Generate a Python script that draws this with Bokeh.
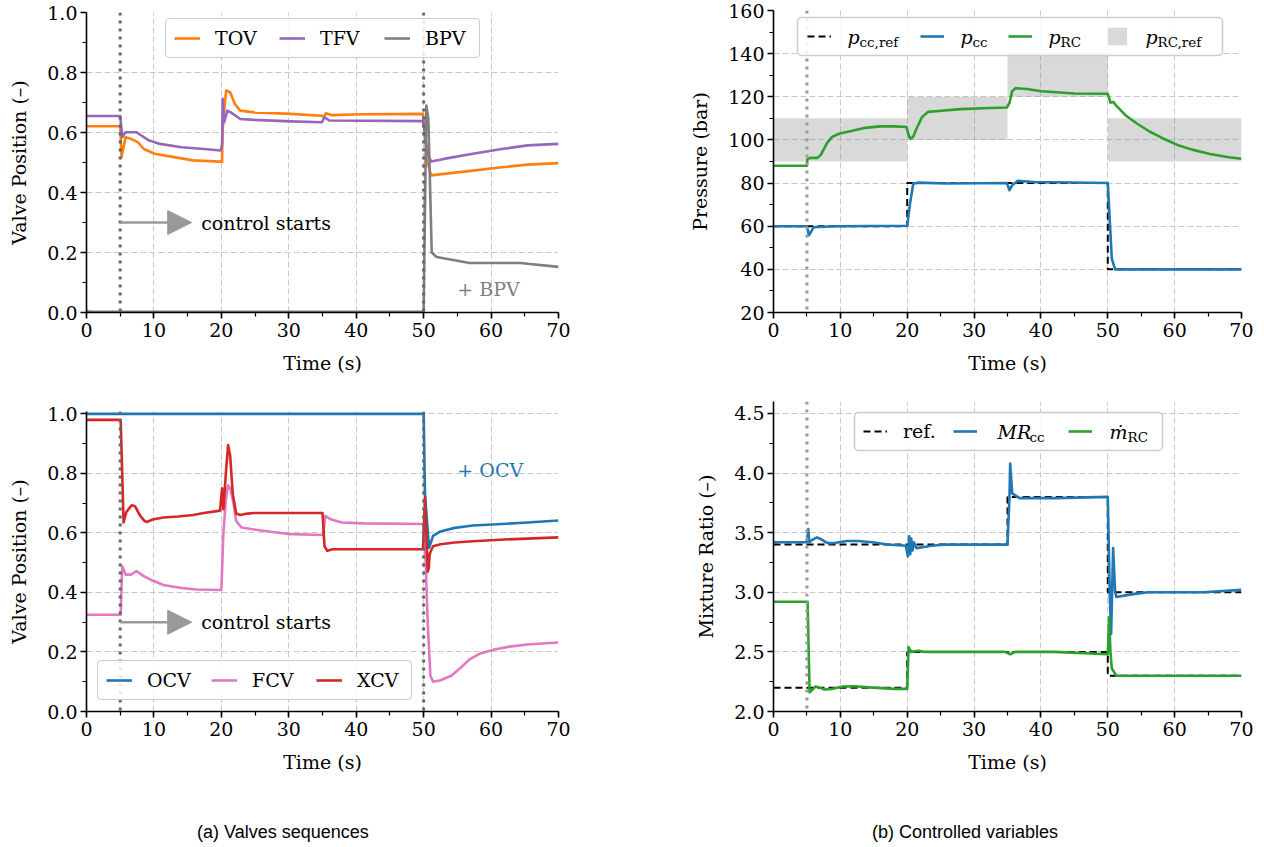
from bokeh.plotting import figure
from bokeh.models import (Range1d, FixedTicker, PrintfTickFormatter, Span, Legend,
                          LegendItem, Label, Arrow, NormalHead, Div, BoxAnnotation)
from bokeh.layouts import column, row
from bokeh.embed import file_html
from bokeh.resources import INLINE

# ---------------- data ----------------
# (a) top: valve positions
TOV_t = [0, 5.0, 5.2, 5.8, 6.6, 7.6, 8.5, 10.1, 13, 15.8, 19.8, 20.1, 20.2, 20.7, 21.3, 22.0, 22.8, 24.9,
         30.3, 34.9, 35.2, 35.5, 36.3, 41, 49.9, 50.6, 51.1, 53, 57.3, 61.6, 65.4, 70]
TOV_v = [0.621, 0.621, 0.518, 0.584, 0.579, 0.568, 0.545, 0.529, 0.518, 0.507, 0.503, 0.503, 0.612, 0.74,
         0.734, 0.695, 0.673, 0.667, 0.662, 0.656, 0.651, 0.664, 0.658, 0.661, 0.662, 0.50, 0.457, 0.462,
         0.473, 0.484, 0.493, 0.498]
TFV_t = [0, 5.0, 5.3, 5.8, 7.4, 7.8, 9.3, 10.9, 14.1, 17.4, 19.9, 20.1, 20.2, 20.4, 20.9, 21.4, 22.8, 24.9,
         30.3, 34.9, 35.3, 36.0, 49.9, 50.6, 51.1, 53, 57.3, 61.6, 65.4, 70]
TFV_v = [0.655, 0.655, 0.584, 0.601, 0.601, 0.595, 0.573, 0.562, 0.551, 0.545, 0.54, 0.56, 0.712, 0.634,
         0.673, 0.667, 0.645, 0.642, 0.637, 0.634, 0.651, 0.64, 0.638, 0.53, 0.503, 0.512, 0.529, 0.545,
         0.557, 0.562]
BPV_t = [0, 0.3, 1, 50.0, 50.4, 50.7, 51.2, 51.9, 54.6, 56.8, 64.3, 70]
BPV_v = [0.006, 0.003, 0.002, 0.002, 0.69, 0.645, 0.2, 0.185, 0.174, 0.165, 0.165, 0.152]

# (a) bottom
OCV_t = [0, 50.0, 50.2, 50.8, 51.4, 52.5, 54.6, 57.3, 61.6, 65.4, 70]
OCV_v = [1.0, 1.0, 0.73, 0.55, 0.59, 0.605, 0.617, 0.625, 0.63, 0.635, 0.642]
FCV_t = [0, 5.07, 5.3, 5.8, 6.6, 7.4, 8.5, 9.8, 11.4, 14.1, 16.3, 20.0, 20.3, 20.7, 21.0, 21.4, 21.8, 22.2,
         23.0, 24.4, 27.6, 30.3, 35.1, 35.4, 36.3, 37.9, 41.1, 50.0, 50.3, 50.6, 51.0, 51.4, 52.5, 54.1,
         55.4, 56.8, 58.4, 60.5, 62.7, 65.4, 70]
FCV_v = [0.325, 0.325, 0.488, 0.46, 0.46, 0.472, 0.455, 0.44, 0.425, 0.415, 0.41, 0.408, 0.6, 0.72, 0.76,
         0.745, 0.7, 0.64, 0.618, 0.613, 0.603, 0.596, 0.593, 0.657, 0.645, 0.635, 0.632, 0.63, 0.5, 0.3,
         0.12, 0.1, 0.105, 0.12, 0.145, 0.175, 0.195, 0.208, 0.218, 0.225, 0.232]
XCV_t = [0, 5.07, 5.5, 5.9, 6.7, 7.2, 7.9, 8.6, 9.0, 9.8, 11.4, 13.6, 15.8, 17.4, 19.8, 20.1, 20.3, 20.7,
         21.0, 21.3, 21.7, 22.2, 22.8, 23.9, 24.9, 35.0, 35.3, 35.7, 36.5, 49.9, 50.2, 50.4, 50.6, 50.75,
         50.9, 51.4, 52.5, 54.6, 57.3, 62, 70]
XCV_v = [0.98, 0.98, 0.635, 0.67, 0.693, 0.69, 0.66, 0.64, 0.637, 0.645, 0.652, 0.655, 0.66, 0.667, 0.675,
         0.75, 0.68, 0.81, 0.895, 0.86, 0.73, 0.665, 0.66, 0.665, 0.667, 0.667, 0.555, 0.54, 0.545, 0.545,
         0.72, 0.6, 0.47, 0.48, 0.53, 0.555, 0.562, 0.568, 0.572, 0.578, 0.585]

# (b) top: pressures
PCC_REF_t = [0, 20, 20, 50, 50, 70]
PCC_REF_v = [60, 60, 80, 80, 40, 40]
PCC_t = [0, 5.0, 5.3, 6.0, 9.3, 20.0, 20.4, 20.9, 21.7, 25.8, 34.9, 35.3, 35.7, 36.5, 39, 50.0, 50.6, 51.1, 70]
PCC_v = [60, 60, 55.8, 59.5, 60, 60.2, 70, 79.7, 80.2, 79.8, 80, 76.7, 79, 81, 80.5, 80, 45, 40, 40]
PRC_t = [0, 5.0, 5.05, 5.5, 6.6, 7.1, 8.0, 8.8, 9.9, 11.5, 13.7, 15.9, 18.1, 19.9, 20.2, 20.5, 20.9, 21.4,
         22.2, 23.1, 24.7, 28, 31.3, 34.9, 35.3, 35.7, 36.2, 37.9, 40.1, 42.3, 45, 50, 50.4, 50.8, 51.3,
         52.7, 54.4, 56.3, 58.2, 60.4, 62.6, 65.3, 68.1, 70]
PRC_v = [88, 88, 91, 91.7, 91.7, 93.2, 98.5, 101.5, 103, 104, 105.6, 106.3, 106.3, 106, 102.3, 100.5, 101.5,
         105.3, 110.5, 113, 113.4, 114.3, 114.7, 115, 117.3, 122.6, 124, 123.6, 122.6, 122.1, 121.5, 121.4,
         117.3, 117.6, 115.8, 111.3, 107.5, 103.8, 100.8, 97.7, 95.5, 93.5, 92, 91.3]
RC_REF_start = [0, 20, 35, 50]
RC_REF_end = [20, 35, 50, 70]
RC_REF_low = [90, 100, 120, 90]
RC_REF_high = [110, 120, 140, 110]

# (b) bottom: mixture ratios
MR_REF_t = [0, 35, 35, 50, 50, 70]
MR_REF_v = [3.4, 3.4, 3.8, 3.8, 3.0, 3.0]
MD_REF_t = [0, 20, 20, 50, 50, 70]
MD_REF_v = [2.2, 2.2, 2.5, 2.5, 2.3, 2.3]
MR_t = [0, 5.0, 5.2, 5.35, 5.8, 6.5, 7.1, 7.8, 8.5, 9.3, 11, 12.6, 14.8, 17, 19.8, 20.1, 20.3, 20.45, 20.6,
        20.8, 21.0, 21.4, 22.5, 23.6, 25.8, 35.0, 35.3, 35.4, 35.7, 36.8, 42.3, 50.0, 50.3, 50.5, 50.8,
        51.1, 51.3, 53.3, 56, 64.3, 70]
MR_v = [3.42, 3.42, 3.53, 3.42, 3.44, 3.46, 3.445, 3.42, 3.41, 3.415, 3.43, 3.43, 3.42, 3.4, 3.39, 3.3,
        3.47, 3.32, 3.45, 3.35, 3.42, 3.37, 3.38, 3.39, 3.4, 3.4, 3.81, 4.08, 3.83, 3.79, 3.79, 3.8, 2.97,
        2.65, 3.37, 3.0, 2.96, 2.98, 3.0, 3.0, 3.02]
MD_t = [0, 5.1, 5.4, 6.3, 6.9, 7.6, 8.8, 10.4, 12.1, 14.8, 18.1, 20.0, 20.2, 20.6, 21.7, 22.5, 34.6, 35.4,
        36.2, 42, 50.0, 50.2, 50.4, 50.6, 51.3, 70]
MD_v = [2.92, 2.92, 2.16, 2.21, 2.2, 2.185, 2.19, 2.21, 2.212, 2.2, 2.19, 2.19, 2.54, 2.5, 2.51, 2.5, 2.5,
        2.48, 2.5, 2.5, 2.48, 2.79, 2.5, 2.36, 2.3, 2.3]

X_TICKS = [0, 10, 20, 30, 40, 50, 60, 70]
X_MINOR = [0, 5, 10, 15, 20, 25, 30, 35, 40, 45, 50, 55, 60, 65, 70]
VALVE_TICKS = [0.0, 0.2, 0.4, 0.6, 0.8, 1.0]
VALVE_MINOR = [0.0, 0.1, 0.2, 0.3, 0.4, 0.5, 0.6, 0.7, 0.8, 0.9, 1.0]
P_TICKS = [20, 40, 60, 80, 100, 120, 140, 160]
P_MINOR = [20, 30, 40, 50, 60, 70, 80, 90, 100, 110, 120, 130, 140, 150, 160]
MR_TICKS = [2.0, 2.5, 3.0, 3.5, 4.0, 4.5]
MR_MINOR = [2.0, 2.25, 2.5, 2.75, 3.0, 3.25, 3.5, 3.75, 4.0, 4.25, 4.5]

# ---------------- style ----------------
SERIF = "DejaVu Serif"
FS = "19px"
C_ORANGE, C_PURPLE, C_GREY = "#ff7f0e", "#9467bd", "#7f7f7f"
C_BLUE, C_PINK, C_RED, C_GREEN = "#1f77b4", "#e377c2", "#d62728", "#2ca02c"
LW = 2.6
LEG_H = 38


def make_fig(fw, fh, left, right, top, bottom, y0, y1, yt, ym, yfmt, ylabel):
    p = figure(frame_width=fw, frame_height=fh, min_border_left=left, min_border_right=right,
               min_border_top=top, min_border_bottom=bottom, x_range=Range1d(0, 70),
               y_range=Range1d(y0, y1), output_backend="svg", toolbar_location=None)
    p.outline_line_color = None
    p.background_fill_color = "white"
    p.border_fill_color = "white"
    p.xaxis.ticker = FixedTicker(ticks=X_TICKS, minor_ticks=X_MINOR)
    p.yaxis.ticker = FixedTicker(ticks=yt, minor_ticks=ym)
    p.xaxis.formatter = PrintfTickFormatter(format="%d")
    p.yaxis.formatter = PrintfTickFormatter(format=yfmt)
    p.xaxis.axis_label = "Time (s)"
    p.yaxis.axis_label = ylabel
    for ax in (p.xaxis[0], p.yaxis[0]):
        ax.axis_line_width = 1.6
        ax.major_tick_line_width = 1.6
        ax.minor_tick_line_width = 1.2
        ax.major_tick_out = 6
        ax.major_tick_in = 0
        ax.minor_tick_out = 4
        ax.minor_tick_in = 0
        ax.major_label_text_font = SERIF
        ax.major_label_text_font_size = FS
        ax.major_label_text_color = "black"
        ax.axis_label_text_font = SERIF
        ax.axis_label_text_font_size = FS
        ax.axis_label_text_font_style = "normal"
        ax.axis_label_text_color = "black"
    p.xaxis.major_label_standoff = 4
    p.yaxis.major_label_standoff = 3
    p.xaxis.axis_label_standoff = 12
    p.yaxis.axis_label_standoff = 14
    for g in (p.xgrid[0], p.ygrid[0]):
        g.grid_line_color = "#c8c8c8"
        g.grid_line_dash = "6 3"
        g.grid_line_width = 1
    return p


def rounded(model):
    try:
        model.border_radius = 4
    except Exception:
        pass
    return model


def make_legend(items, vx, vy, glyph_w, standoff, label_w, spacing, boxed=True):
    leg = Legend(items=items, location=(vx, vy), orientation="horizontal",
                 glyph_width=glyph_w, glyph_height=22, label_standoff=standoff,
                 label_width=label_w, label_height=22, spacing=spacing, padding=8, margin=0,
                 border_line_color="#cccccc", border_line_width=1.5,
                 border_line_alpha=1.0 if boxed else 0.0,
                 background_fill_color="white", background_fill_alpha=0.85 if boxed else 0.0,
                 label_text_font=SERIF, label_text_font_size=FS, label_text_color="black")
    return rounded(leg) if boxed else leg


def legend_box(p, vx, vy, w):
    p.add_layout(rounded(BoxAnnotation(left=vx, right=vx + w, bottom=vy, top=vy + LEG_H,
                                       left_units="screen", right_units="screen",
                                       bottom_units="screen", top_units="screen",
                                       fill_color="white", fill_alpha=0.85,
                                       line_color="#cccccc", line_width=1.5, line_alpha=1.0)))


def math_label(p, x, y, main, sub, sub_dx, italic=True):
    p.add_layout(Label(x=x, y=y, x_units="screen", y_units="screen", text=main,
                       text_font=SERIF, text_font_size=FS,
                       text_font_style="italic" if italic else "normal",
                       text_baseline="middle", text_align="left", text_color="black"))
    p.add_layout(Label(x=x + sub_dx, y=y - 5, x_units="screen", y_units="screen", text=sub,
                       text_font=SERIF, text_font_size="13.5px", text_baseline="middle",
                       text_align="left", text_color="black"))


def single_legend(p, label, renderer, glyph_x, vy, label_w):
    p.add_layout(make_legend([LegendItem(label=label, renderers=[renderer])],
                             glyph_x - 8, vy, 24, 16, label_w, 0, boxed=False))


def control_arrow(p):
    p.add_layout(Arrow(end=NormalHead(size=24, fill_color="#999999", line_color="#999999", line_width=1),
                       x_start=5, y_start=0.3, x_end=15.6, y_end=0.3,
                       line_color="#999999", line_width=2.6))
    p.add_layout(Label(x=17.0, y=0.3, text="control starts", text_font=SERIF, text_font_size=FS,
                       text_baseline="middle", text_align="left", text_color="black"))


def vline(p, loc, color):
    p.add_layout(Span(location=loc, dimension="height", line_color=color, line_width=3,
                      line_dash="3 5"))


# ---------------- (a) top ----------------
p1 = make_fig(472, 300, 86, 70, 12, 85, 0.0, 1.0, VALVE_TICKS, VALVE_MINOR, "%.1f", "Valve Position (–)")
r_tov = p1.line(TOV_t, TOV_v, line_color=C_ORANGE, line_width=LW, line_join="round")
r_tfv = p1.line(TFV_t, TFV_v, line_color=C_PURPLE, line_width=LW, line_join="round")
r_bpv = p1.line(BPV_t, BPV_v, line_color=C_GREY, line_width=LW, line_join="round")
vline(p1, 5, "#666666")
vline(p1, 50, "#666666")
control_arrow(p1)
p1.add_layout(Label(x=55.0, y=0.08, text="+ BPV", text_font=SERIF, text_font_size=FS,
                    text_baseline="middle", text_color=C_GREY))
p1.add_layout(make_legend([LegendItem(label="TOV", renderers=[r_tov]),
                           LegendItem(label="TFV", renderers=[r_tfv]),
                           LegendItem(label="BPV", renderers=[r_bpv])],
                          79, 254, 26, 15, 46, 18))

# ---------------- (b) top ----------------
p2 = make_fig(468, 302, 145, 12, 10, 85, 20, 160, P_TICKS, P_MINOR, "%d", "Pressure (bar)")
r_band = p2.quad(left=RC_REF_start, right=RC_REF_end, bottom=RC_REF_low, top=RC_REF_high,
                 fill_color="#808080", fill_alpha=0.3, line_color=None)
r_pref = p2.line(PCC_REF_t, PCC_REF_v, line_color="black", line_width=2, line_dash="7 4")
r_pcc = p2.line(PCC_t, PCC_v, line_color=C_BLUE, line_width=LW, line_join="round")
r_prc = p2.line(PRC_t, PRC_v, line_color=C_GREEN, line_width=LW, line_join="round")
vline(p2, 5, "#999999")
legend_box(p2, 24, 257, 425)
P2_GLYPH_X = [34, 147, 235, 332]
for gx, sub, rr, lw_ in zip(P2_GLYPH_X, ["cc,ref", "cc", "RC", "RC,ref"],
                            [r_pref, r_pcc, r_prc, r_band], [56, 30, 36, 62]):
    math_label(p2, gx + 40, 276, "p", sub, 12)
    single_legend(p2, " ", rr, gx, 257, lw_)

# ---------------- (a) bottom ----------------
p3 = make_fig(472, 300, 86, 70, 14, 66, 0.0, 1.008, VALVE_TICKS, VALVE_MINOR, "%.1f", "Valve Position (–)")
r_ocv = p3.line(OCV_t, OCV_v, line_color=C_BLUE, line_width=LW, line_join="round")
r_fcv = p3.line(FCV_t, FCV_v, line_color=C_PINK, line_width=LW, line_join="round")
r_xcv = p3.line(XCV_t, XCV_v, line_color=C_RED, line_width=LW, line_join="round")
vline(p3, 5, "#666666")
vline(p3, 50, "#666666")
control_arrow(p3)
p3.add_layout(Label(x=55.0, y=0.81, text="+ OCV", text_font=SERIF, text_font_size=FS,
                    text_baseline="middle", text_color=C_BLUE))
p3.add_layout(make_legend([LegendItem(label="OCV", renderers=[r_ocv]),
                           LegendItem(label="FCV", renderers=[r_fcv]),
                           LegendItem(label="XCV", renderers=[r_xcv])],
                          11, 11, 26, 15, 46, 18))

# ---------------- (b) bottom ----------------
p4 = make_fig(468, 310, 145, 12, 4, 66, 2.0, 4.6, MR_TICKS, MR_MINOR, "%.1f", "Mixture Ratio (–)")
r_ref1 = p4.line(MR_REF_t, MR_REF_v, line_color="black", line_width=2, line_dash="7 4")
p4.line(MD_REF_t, MD_REF_v, line_color="black", line_width=2, line_dash="7 4")
r_mr = p4.line(MR_t, MR_v, line_color=C_BLUE, line_width=LW, line_join="round")
r_md = p4.line(MD_t, MD_v, line_color=C_GREEN, line_width=LW, line_join="round")
vline(p4, 5, "#999999")
legend_box(p4, 81, 261, 308)
math_label(p4, 224, 280, "MR", "cc", 32)
math_label(p4, 336, 280, "ṁ", "RC", 18)
single_legend(p4, "ref.", r_ref1, 90, 261, 34)
single_legend(p4, " ", r_mr, 180, 261, 50)
single_legend(p4, " ", r_md, 295, 261, 40)

# ---------------- captions ----------------
CAP = "font-family:'Liberation Sans';font-size:18px;color:#000;text-align:center;padding-top:43px;"
d1 = Div(text=f'<div style="{CAP}width:566px;">(a) Valves sequences</div>', width=628, height=66,
         margin=0)
d2 = Div(text=f'<div style="{CAP}width:624px;padding-left:50px;">(b) Controlled variables</div>',
         width=625, height=66, margin=0)

layout = row(column(p1, p3, d1), column(p2, p4, d2))
open("out.html", "w").write(file_html(layout, INLINE))
